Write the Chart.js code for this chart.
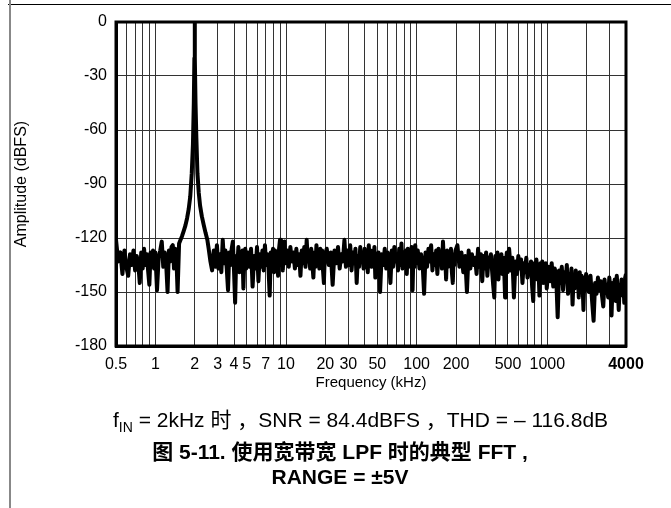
<!DOCTYPE html>
<html lang="zh-CN">
<head>
<meta charset="utf-8">
<title>典型 FFT</title>
<script src="https://cdn.jsdelivr.net/npm/chart.js@4.4.1/dist/chart.umd.min.js"></script>
<style>
  html, body { margin: 0; padding: 0; background: #fff; }
  #page {
    position: relative; width: 671px; height: 508px; overflow: hidden;
    font-family: 'Liberation Sans', Arial, 'Noto Sans CJK SC', sans-serif; color: #000;
  }
  #fftChart { position: absolute; left: 0; top: 0; }
  .rule-top { position: absolute; left: 8px; right: 0; top: 4px; height: 1px; background: #000; }
  .rule-left { position: absolute; left: 9px; top: 0; width: 2px; height: 508px; background: #888; }
  .cond {
    position: absolute; left: 113px; top: 407px; white-space: nowrap;
    font-size: 21px; line-height: 26px;
  }
  .cond sub { font-size: 14px; vertical-align: -5px; line-height: 0; }
  .caption {
    position: absolute; left: 40px; width: 600px; top: 439px; text-align: center;
    font-size: 21px; line-height: 25px; font-weight: bold;
  }
</style>
</head>
<body>
<div id="page">
  <div class="rule-top"></div>
  <div class="rule-left"></div>
  <canvas id="fftChart" width="671" height="508"></canvas>
  <div class="cond">f<sub>IN</sub> = 2kHz 时 ，SNR = 84.4dBFS ，THD = – 116.8dB</div>
  <div class="caption">图 5-11. 使用宽带宽 LPF 时的典型 FFT ,<br>RANGE = ±5V</div>
</div>
<script>
// Spektar po opsezima: frekvencije (kHz) i amplitude (dBFS)
const freqSub1k = [0.50, 0.52, 0.54, 0.56, 0.58, 0.60, 0.62, 0.64, 0.66, 0.68, 0.70, 0.72, 0.74, 0.76, 0.78, 0.80, 0.82, 0.84, 0.86, 0.88,
                   0.90, 0.92, 0.94, 0.96, 0.98,
                   1.00, 1.03, 1.06, 1.09, 1.12, 1.15, 1.18, 1.21, 1.24, 1.27, 1.30, 1.33, 1.36, 1.39, 1.42, 1.45, 1.48];
const ampSub1k  = [-121, -133, -128, -140, -127, -136, -141, -129, -135, -127, -138, -130, -134, -145, -128, -137, -126, -135, -129, -138,
                   -146, -128, -136, -127, -137,
                   -128, -149, -131, -127, -122, -136, -128, -134, -150, -127, -133, -125, -124, -137, -126, -131, -150];

// Osnovni ton na 2 kHz
const freqTone = [1.52, 1.56, 1.6, 1.65, 1.7, 1.75, 1.8, 1.85, 1.9, 1.94, 1.97, 1.99, 2.0, 2.01, 2.03, 2.06, 2.1, 2.15, 2.2, 2.27, 2.35, 2.42, 2.5];
const ampTone  = [-123, -121, -119, -116, -113, -109, -104, -97, -84, -68, -45, -20, 0, -20, -45, -64, -84, -95, -102, -108, -113, -117, -121];

const freqTo10 = [2.56, 2.64, 2.72, 2.80, 2.88, 2.96, 3.04, 3.12, 3.20, 3.28, 3.36, 3.44, 3.52, 3.60, 3.68, 3.76, 3.84, 3.92, 4.00, 4.08,
                  4.16, 4.24, 4.32, 4.40, 4.48, 4.56, 4.64, 4.72, 4.80, 4.88, 4.96,
                  5.10, 5.25, 5.40, 5.55, 5.70, 5.85, 6.00, 6.15, 6.30, 6.45, 6.60, 6.75, 6.90, 7.05, 7.20, 7.35, 7.50, 7.65, 7.80, 7.95,
                  8.10, 8.25, 8.40, 8.55, 8.70, 8.85, 9.00, 9.15, 9.30, 9.45, 9.60, 9.75, 9.90];
const ampTo10  = [-126, -133, -138, -127, -136, -124, -137, -129, -139, -121, -134, -127, -137, -149, -128, -135, -126, -122, -138, -156,
                  -130, -136, -125, -139, -128, -135, -127, -148, -131, -126, -137,
                  -128, -136, -126, -147, -130, -137, -125, -144, -129, -136, -127, -138, -124, -135, -129, -137, -152, -128, -134, -126,
                  -139, -127, -136, -130, -141, -126, -121, -135, -128, -138, -127, -122, -134];

const freqTo100 = [10.2, 10.5, 10.8, 11.1, 11.4, 11.7, 12.0, 12.3, 12.6, 12.9, 13.2, 13.5, 13.8, 14.1, 14.4, 14.7, 15.0, 15.3, 15.6, 15.9,
                   16.2, 16.5, 16.8, 17.1, 17.4, 17.7, 18.0, 18.3, 18.6, 18.9, 19.2, 19.5, 19.8,
                   20.5, 21.25, 22.0, 22.75, 23.5, 24.25, 25.0, 25.75, 26.5, 27.25, 28.0, 28.75, 29.5, 30.25, 31.0, 31.75, 32.5, 33.25, 34.0, 34.75,
                   35.5, 36.25, 37.0, 37.75, 38.5, 39.25, 40.0, 40.75, 41.5, 42.25, 43.0, 43.75, 44.5, 45.25, 46.0, 46.75, 47.5, 48.25, 49.0, 49.75,
                   51, 52.5, 54, 55.5, 57, 58.5, 60, 61.5, 63, 64.5, 66, 67.5, 69, 70.5, 72, 73.5, 75, 76.5, 78, 79.5,
                   81, 82.5, 84, 85.5, 87, 88.5, 90, 91.5, 93, 94.5, 96, 97.5, 99];
const ampTo100  = [-127, -136, -125, -133, -128, -137, -126, -135, -129, -141, -127, -134, -125, -136, -121, -133, -128, -137, -126, -134,
                   -142, -128, -136, -124, -135, -129, -137, -126, -133, -127, -138, -145, -130,
                   -126, -135, -128, -146, -127, -134, -125, -137, -129, -133, -121, -136, -127, -135, -124, -138, -128, -134, -126, -145,
                   -130, -136, -125, -133, -128, -137, -126, -135, -129, -139, -124, -134, -127, -136, -128, -133, -125, -142, -129, -136,
                   -128, -150, -129, -135, -126, -137, -128, -134, -145, -127, -136, -125, -133, -129, -138, -126, -135, -123, -137, -128,
                   -134, -127, -140, -126, -136, -129, -133, -125, -149, -128, -136, -124, -134];

const freqTo1k = [102, 105, 108, 111, 114, 117, 120, 123, 126, 129, 132, 135, 138, 141, 144, 147, 150, 153, 156, 159,
                  162, 165, 168, 171, 174, 177, 180, 183, 186, 189, 192, 195, 198,
                  205, 212.5, 220, 227.5, 235, 242.5, 250, 257.5, 265, 272.5, 280, 287.5, 295, 302.5, 310, 317.5, 325, 332.5, 340, 347.5,
                  355, 362.5, 370, 377.5, 385, 392.5, 400, 407.5, 415, 422.5, 430, 437.5, 445, 452.5, 460, 467.5, 475, 482.5, 490, 497.5,
                  510, 525, 540, 555, 570, 585, 600, 615, 630, 645, 660, 675, 690, 705, 720, 735, 750, 765, 780, 795,
                  810, 825, 840, 855, 870, 885, 900, 915, 930, 945, 960, 975, 990];
const ampTo1k  = [-127, -137, -129, -134, -151, -128, -136, -126, -133, -124, -138, -129, -135, -127, -140, -126, -134, -128, -137, -122,
                  -135, -129, -143, -127, -136, -128, -134, -126, -139, -145, -129, -135, -127,
                  -124, -136, -128, -139, -130, -150, -127, -137, -129, -135, -131, -140, -126, -136, -129, -144, -130, -137, -128, -141,
                  -131, -135, -129, -138, -146, -153, -130, -137, -128, -143, -132, -136, -129, -140, -131, -137, -153, -133, -128, -139,
                  -126, -138, -131, -153, -133, -140, -130, -137, -132, -145, -134, -139, -131, -142, -135, -138, -133, -147, -155, -134,
                  -140, -132, -143, -136, -152, -134, -141, -133, -145, -136, -140, -134, -148];

const freqTo4k = [1020, 1050, 1080, 1110, 1140, 1170, 1200, 1230, 1260, 1290, 1320, 1350, 1380, 1410, 1440, 1470, 1500, 1530, 1560, 1590,
                  1620, 1650, 1680, 1710, 1740, 1770, 1800, 1830, 1860, 1890, 1920, 1950, 1980,
                  2020, 2080, 2140, 2200, 2260, 2320, 2380, 2440, 2500, 2560, 2620, 2680, 2740, 2800, 2860, 2920, 2980, 3040, 3100, 3160,
                  3220, 3280, 3340, 3400, 3460, 3520, 3580, 3640, 3700, 3760, 3820, 3880, 3940, 4000];
const ampTo4k  = [-136, -144, -134, -147, -137, -142, -164, -138, -145, -136, -149, -139, -143, -135, -151, -140, -146, -137, -157, -141,
                  -148, -138, -144, -140, -153, -139, -147, -141, -145, -160, -142, -149, -140,
                  -143, -150, -141, -155, -166, -145, -151, -142, -149, -144, -152, -158, -143, -150, -146, -153, -142, -148, -163, -145,
                  -151, -143, -155, -141, -149, -160, -146, -152, -143, -150, -145, -156, -142, -140];

// Podela ose
const xGridValues = [0.5, 0.6, 0.7, 0.8, 0.9, 1, 2, 3, 4, 5, 6, 7, 8, 9, 10, 20, 30, 40, 50, 60, 70, 80, 90, 100,
                     200, 300, 400, 500, 600, 700, 800, 900, 1000, 2000, 3000, 4000];
const xTickLabels = [0.5, 1, 2, 3, 4, 5, 7, 10, 20, 30, 50, 100, 200, 500, 1000, 4000];
const yTicks = [-180, -150, -120, -90, -60, -30, 0];

const frequencies = [].concat(freqSub1k, freqTone, freqTo10, freqTo100, freqTo1k, freqTo4k);
const amplitudes  = [].concat(ampSub1k, ampTone, ampTo10, ampTo100, ampTo1k, ampTo4k);

const FONT = "'Liberation Sans', Arial, sans-serif";

// Okvir oko polja grafikona
const frameBox = {
    id: 'frameBox',
    afterDraw(chart) {
        const { ctx, chartArea: a } = chart;
        ctx.save();
        ctx.strokeStyle = '#000';
        ctx.lineWidth = 3;
        ctx.strokeRect(a.left, a.top, a.right - a.left, a.bottom - a.top);
        ctx.restore();
    }
};

new Chart(document.getElementById('fftChart'), {
    type: 'line',
    data: {
        datasets: [{
            data: frequencies.map((f, i) => ({ x: f, y: amplitudes[i] })),
            borderColor: '#000',
            borderWidth: 4,
            borderJoinStyle: 'round',
            pointRadius: 0,
            tension: 0,
            fill: false
        }]
    },
    options: {
        responsive: false,
        animation: false,
        devicePixelRatio: 1,
        layout: { padding: { left: 0, top: 22, right: 45, bottom: 116 } },
        plugins: { legend: { display: false }, tooltip: { enabled: false } },
        scales: {
            x: {
                type: 'logarithmic',
                min: 0.5,
                max: 4000,
                afterBuildTicks(scale) {
                    scale.ticks = xGridValues.map(v => ({ value: v }));
                },
                afterFit(scale) { scale.height = 46; },
                grid: { color: '#333', lineWidth: 1, drawTicks: false },
                border: { display: true, color: '#000', width: 3 },
                ticks: {
                    autoSkip: false,
                    maxRotation: 0,
                    padding: 9,
                    color: '#000',
                    font: ctx => ({ family: FONT, size: 16, weight: (ctx.tick && ctx.tick.value === 4000) ? 'bold' : 'normal' }),
                    callback: value => xTickLabels.includes(value) ? String(value) : ''
                },
                title: {
                    display: true,
                    text: 'Frequency (kHz)',
                    color: '#000',
                    font: { family: FONT, size: 15 },
                    padding: { top: 0, bottom: 0 }
                }
            },
            y: {
                min: -180,
                max: 0,
                afterBuildTicks(scale) {
                    scale.ticks = yTicks.map(v => ({ value: v }));
                },
                afterFit(scale) { scale.width = 116; },
                grid: { color: '#333', lineWidth: 1, drawTicks: false },
                border: { display: true, color: '#000', width: 3 },
                ticks: {
                    padding: 9,
                    color: '#000',
                    font: { family: FONT, size: 16 }
                },
                title: {
                    display: true,
                    text: 'Amplitude (dBFS)',
                    color: '#000',
                    font: { family: FONT, size: 16 },
                    padding: { top: 12, bottom: 0 }
                }
            }
        }
    },
    plugins: [frameBox]
});
</script>
</body>
</html>
